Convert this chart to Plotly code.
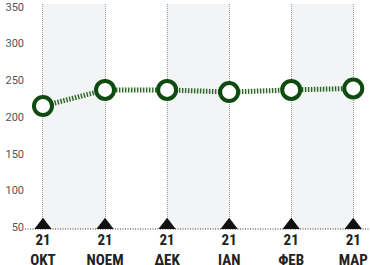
import plotly.graph_objects as go

months = ["ΟΚΤ", "ΝΟΕΜ", "ΔΕΚ", "ΙΑΝ", "ΦΕΒ", "ΜΑΡ"]
years = ["21", "21", "21", "21", "21", "21"]
values = [215, 237, 237, 234, 237, 239]
y_ticks = [50, 100, 150, 200, 250, 300, 350]
shaded_pairs = [(0, 1), (2, 3), (4, 5)]

y_min, y_max = 47.5, 354
x = list(range(len(months)))
tick_text = [f"<b>{y}</b><br><b>{m}</b>" for y, m in zip(years, months)]

fig = go.Figure()

fig.add_trace(go.Scatter(
    x=x, y=values, mode="lines+markers",
    line=dict(color="#2d6a26", width=5, dash="1.5px,1.5px"),
    marker=dict(symbol="circle", size=18, color="white",
                line=dict(color="#0f4a10", width=4)),
    cliponaxis=False, hoverinfo="skip",
))

fig.add_trace(go.Scatter(
    x=x, y=[y_min + 5] * len(x), mode="markers",
    marker=dict(symbol="triangle-up", size=15, color="#111111"),
    cliponaxis=False, hoverinfo="skip",
))

shapes = []
for a, b in shaded_pairs:
    shapes.append(dict(type="rect", xref="x", yref="paper", x0=a, x1=b, y0=0, y1=1,
                       fillcolor="#f3f4f6", line=dict(width=0), layer="below"))
shapes.append(dict(type="line", xref="paper", yref="paper", x0=0, x1=1, y0=0, y1=0,
                   line=dict(color="#333333", width=1, dash="1px,1.5px"), layer="below"))
fig.update_layout(shapes=shapes)

fig.update_layout(
    width=370, height=265,
    margin=dict(l=25, r=0, t=4, b=36),
    paper_bgcolor="white", plot_bgcolor="white",
    showlegend=False,
    font=dict(family="Roboto, sans-serif"),
)

fig.update_xaxes(
    range=[-0.29, 5.27], tickvals=x, ticktext=tick_text, automargin=False,
    showgrid=True, gridcolor="#999999", gridwidth=1, griddash="1px,1px",
    zeroline=False, showline=False, ticks="", ticklabelstandoff=0,
    tickfont=dict(size=15, color="#222222", family="Roboto Condensed, Roboto, sans-serif"),
)
fig.update_yaxes(
    range=[y_min, y_max], tickvals=y_ticks, automargin=False,
    showgrid=False, zeroline=False, showline=False, ticks="",
    tickfont=dict(size=11, color="#555555", family="Roboto, sans-serif"),
)

fig.write_html("out.html", config={"displayModeBar": False},
               post_script="document.body.style.margin='0';")
